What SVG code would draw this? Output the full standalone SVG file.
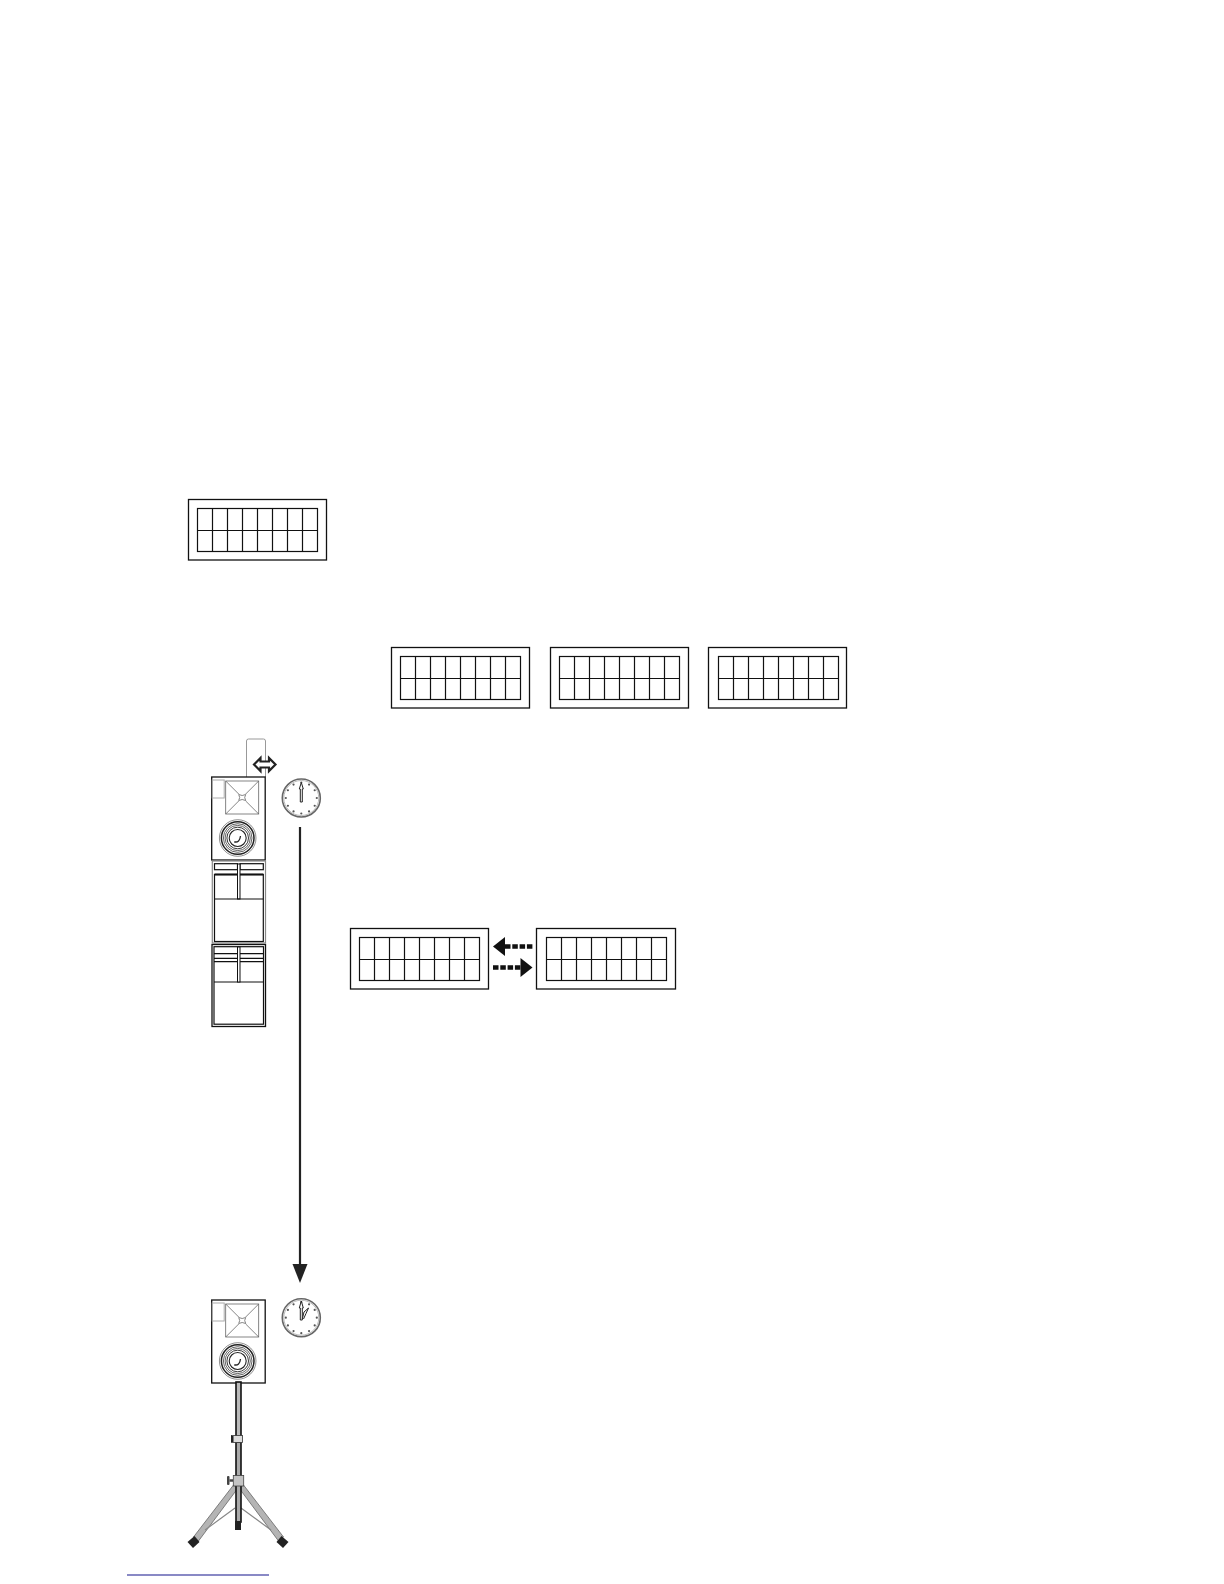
<svg xmlns="http://www.w3.org/2000/svg" width="1224" height="1584" viewBox="0 0 1224 1584">
<style>
.o{fill:#fff;stroke:#111;stroke-width:1.3}
.g{fill:#fff;stroke:#111;stroke-width:1.2}
.l{fill:none;stroke:#111;stroke-width:1.2}
.t{fill:none;stroke:#666;stroke-width:.8}
.gr{fill:none;stroke:#aaa;stroke-width:1}
.w{fill:none;stroke:#222}
.tick{fill:#555}
</style>
<defs>
<rect id="frame" class="o" x="0" y="0" width="138" height="60.500"/>
<g id="grid">
<rect class="g" x="0" y="0" width="120" height="43"/>
<path class="l" d="M0 22H120M15 0V43M30 0V43M45 0V43M60 0V43M75 0V43M90 0V43M105 0V43"/>
</g>
<g id="spk">
<rect x="0" y="0" width="53.500" height="83" fill="#fff" stroke="#111" stroke-width="1.300"/>
<rect class="gr" x="0.500" y="3" width="12" height="18"/>
<rect class="t" x="14" y="4" width="33" height="33"/>
<path class="t" d="M14 4L27 17M47 4L34 17M14 37L27 24M47 37L34 24"/>
<path class="t" d="M27 17.500Q30.500 19.500 34 17.500Q32 20.500 34 23.500Q30.500 21.500 27 23.500Q29 20.500 27 17.500Z"/>
<g transform="translate(26 61)">
<circle class="w" r="18.300" stroke-width=".5" stroke="#aaa"/>
<circle class="w" r="16.300" stroke-width="1.500"/>
<circle class="w" r="14.300" stroke-width=".7"/>
<circle class="w" r="12.600" stroke-width=".7"/>
<circle class="w" r="10.800" stroke-width=".9"/>
<circle class="w" r="8.500" stroke-width="1.100"/>
<path class="w" stroke-width="1.300" d="M-3.500 3.800Q2 5 2.800 -2"/>
</g>
</g>
<g id="clock">
<circle r="19" fill="#fff" stroke="#666" stroke-width="1.600"/>
<circle r="17.500" fill="none" stroke="#aaa" stroke-width=".8"/>
<g class="tick">
<circle cx="0" cy="-15.500" r="1.100"/><circle cx="7.750" cy="-13.400" r="1.100"/><circle cx="13.400" cy="-7.750" r="1.100"/><circle cx="15.500" cy="0" r="1.100"/><circle cx="13.400" cy="7.750" r="1.100"/><circle cx="7.750" cy="13.400" r="1.100"/><circle cx="0" cy="15.500" r="1.100"/><circle cx="-7.750" cy="13.400" r="1.100"/><circle cx="-13.400" cy="7.750" r="1.100"/><circle cx="-15.500" cy="0" r="1.100"/><circle cx="-13.400" cy="-7.750" r="1.100"/><circle cx="-7.750" cy="-13.400" r="1.100"/>
</g>
</g>
</defs>
<rect width="1224" height="1584" fill="#fff"/>

<g id="lcd-top"><use href="#frame" x="188.500" y="499.500"/><use href="#grid" x="197.500" y="508.500"/></g>
<g id="lcd-row-1"><use href="#frame" x="391.500" y="647.500"/><use href="#grid" x="400.500" y="656.500"/></g>
<g id="lcd-row-2"><use href="#frame" x="550.500" y="647.500"/><use href="#grid" x="559.500" y="656.500"/></g>
<g id="lcd-row-3"><use href="#frame" x="708.500" y="647.500" transform="translate(0 0)"/><use href="#grid" x="718.500" y="656.500"/></g>
<g id="lcd-left"><use href="#frame" x="350.500" y="928.500"/><use href="#grid" x="359.500" y="937.500"/></g>
<g id="lcd-right"><rect class="o" x="536.500" y="928.500" width="139" height="60.500"/><use href="#grid" x="546.500" y="937.500"/></g>

<g id="handle">
<path d="M246.500 777V741Q246.500 739 248.500 739H263.500Q265.500 739 265.500 741V777" fill="none" stroke="#999" stroke-width="1"/>
</g>

<g id="speaker-top"><use href="#spk" x="211.700" y="777"/></g>
<g id="sub-1">
<rect x="212.300" y="861" width="53.200" height="82" fill="#fff" stroke="#888" stroke-width="1.200"/>
<rect class="g" x="214.500" y="863.700" width="23" height="6"/>
<rect class="g" x="240" y="863.700" width="23.300" height="6"/>
<rect x="214.500" y="874.500" width="48.800" height="67" fill="#fff" stroke="#111" stroke-width="1.200"/>
<path d="M214.500 874.500H237.500M240 874.500H263.300" stroke="#111" stroke-width="2.200" fill="none"/>
<rect x="237.500" y="864" width="2.500" height="35" fill="#fff" stroke="#111" stroke-width="1"/>
<path class="l" d="M214.500 899H263.300"/>
</g>
<g id="sub-2">
<rect class="o" x="212" y="944.500" width="53.500" height="82"/>
<rect class="g" x="214" y="946.700" width="49.500" height="77.500"/>
<path class="l" d="M214 953.700H263.500M214 958.300H263.500M214 961.700H263.500M214 982H263.500"/>
<rect x="237.500" y="947" width="2.500" height="35" fill="#fff" stroke="#111" stroke-width="1"/>
</g>
<g id="clock-top">
<use href="#clock" x="301.300" y="798"/>
<path d="M301.300 782.500L303.300 789H302.300V802H300.300V789H299.300Z" fill="#fff" stroke="#222" stroke-width="1" stroke-linejoin="round"/>
</g>

<g id="speaker-bottom"><use href="#spk" x="211.700" y="1300"/></g>
<g id="clock-bottom">
<use href="#clock" x="301.300" y="1317.700"/>
<path d="M301.300 1301L303.300 1308H302.300V1320H300.300V1308H299.300Z" fill="#fff" stroke="#222" stroke-width="1" stroke-linejoin="round"/>
<path d="M302.300 1319L304 1312L308.500 1308L306 1313.500L303.500 1319" fill="#fff" stroke="#222" stroke-width="1" stroke-linejoin="round"/>
</g>

<g id="stand">
<path d="M233.500 1485L193.500 1537L198.500 1541L238 1488Z" fill="#b4b4b4" stroke="#666" stroke-width=".8"/>
<path d="M243.500 1485L283.500 1537L278.500 1541L239 1488Z" fill="#b4b4b4" stroke="#666" stroke-width=".8"/>
<path d="M235 1508L205 1530M241 1508L271 1530" stroke="#888" stroke-width="1.200" fill="none"/>
<rect x="236" y="1382" width="5" height="60" fill="#bbb" stroke="#111" stroke-width="1.600"/>
<rect x="236" y="1442" width="5" height="80" fill="#aaa" stroke="#111" stroke-width="1.600"/>
<rect x="231.500" y="1435.500" width="11" height="7" fill="#ddd" stroke="#333" stroke-width=".8"/>
<rect x="231" y="1436" width="2.500" height="6" fill="#222"/>
<rect x="233.300" y="1475.500" width="10.400" height="10.500" fill="#c4c4c4" stroke="#444" stroke-width=".8"/>
<path d="M233 1480.500H229.500" stroke="#444" stroke-width="2.500"/>
<rect x="227" y="1476" width="2.500" height="9" rx="1" fill="#444"/>
<rect x="235" y="1521" width="6" height="9" fill="#222"/>
<path d="M187.500 1542L194.500 1536L199.500 1542L193 1548Z" fill="#222"/>
<path d="M288.500 1542L281.500 1536L276.500 1542L283 1548Z" fill="#222"/>
</g>

<g id="connectors">
<path d="M300 827V1266" stroke="#222" stroke-width="2.200" fill="none"/>
<path d="M292.500 1264H307.500L300 1283Z" fill="#222"/>
<path d="M254 764.500L260.500 758V761.500H269V758L275.500 764.500L269 771V767.500H260.500V771Z" fill="#fff" stroke="#222" stroke-width="2.200" stroke-linejoin="miter"/>
<path d="M505 946.500H533" stroke="#111" stroke-width="4.500" stroke-dasharray="5.500 1.800" fill="none"/>
<path d="M493 946.500L505 937V956Z" fill="#111"/>
<path d="M493 967.500H521" stroke="#111" stroke-width="4.500" stroke-dasharray="5.500 1.800" fill="none"/>
<path d="M532.500 967.500L520.500 958V977Z" fill="#111"/>
</g>

<g id="underline"><path d="M127 1575H269" stroke="#14148c" stroke-width="1.200" fill="none"/></g>
</svg>
